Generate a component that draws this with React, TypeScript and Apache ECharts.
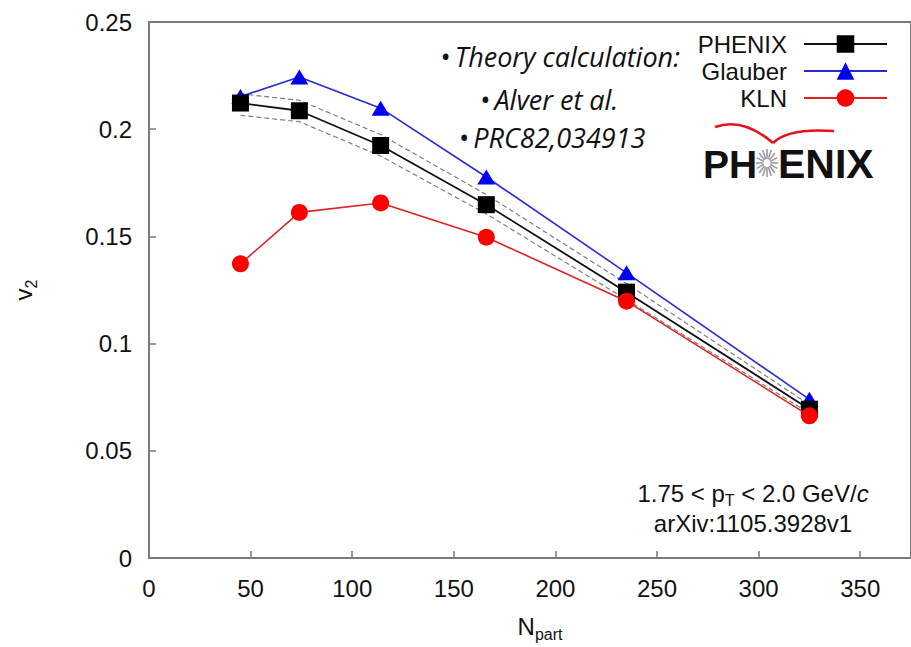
import React, { useEffect, useRef } from 'react';
import * as echarts from 'echarts';

// ---- data ----
const npart = [45, 74, 114, 166, 235, 325];
const phenixV2 = [0.2122, 0.2086, 0.1924, 0.1648, 0.124, 0.0694];
const phenixSysHigh = [0.2165, 0.2135, 0.1975, 0.1695, 0.128, 0.0715];
const phenixSysLow = [0.2065, 0.2035, 0.1875, 0.1605, 0.1205, 0.0675];
const glauberV2 = [0.2152, 0.2244, 0.2098, 0.1777, 0.133, 0.074];
const klnV2 = [0.1372, 0.1612, 0.1656, 0.1496, 0.1198, 0.0663];
const seriesNames = ['PHENIX', 'Glauber', 'KLN'];
const xTickLabels = ['0', '50', '100', '150', '200', '250', '300', '350'];
const yTickLabels = ['0', '0.05', '0.1', '0.15', '0.2', '0.25'];
const noteLines = ['\u2022\u2009Theory calculation:', '\u2022\u2009Alver et al.', '\u2022\u2009PRC82,034913'];

const FONT = '"Liberation Sans", Arial, Helvetica, sans-serif';

const pair = (ys: number[]) => npart.map((n, i) => [n, ys[i]]);

function buildLogo(): any[] {
  const els: any[] = [];
  const cx = 767;
  const cy = 163;
  for (let k = 0; k < 16; k++) {
    const a = (k * Math.PI) / 8;
    els.push({
      type: 'line',
      shape: {
        x1: cx + 3.5 * Math.cos(a),
        y1: cy + 4 * Math.sin(a),
        x2: cx + 11 * Math.cos(a),
        y2: cy + 14 * Math.sin(a),
      },
      style: { stroke: '#9c9c9c', lineWidth: 1.6 },
    });
  }
  els.push({
    type: 'text',
    x: 703,
    y: 164,
    style: { text: 'PH', font: `bold 39px ${FONT}`, fill: '#111', align: 'left', verticalAlign: 'middle' },
  });
  els.push({
    type: 'text',
    x: 778,
    y: 164,
    style: { text: 'ENIX', font: `bold 41px ${FONT}`, fill: '#111', align: 'left', verticalAlign: 'middle' },
  });
  els.push({
    type: 'bezierCurve',
    shape: { x1: 715, y1: 127, cpx1: 738, cpy1: 119, cpx2: 758, cpy2: 130, x2: 773, y2: 143 },
    style: { stroke: '#e3141b', lineWidth: 2.6, fill: null },
  });
  els.push({
    type: 'bezierCurve',
    shape: { x1: 773, y1: 143, cpx1: 784, cpy1: 132, cpx2: 806, cpy2: 129, x2: 834, y2: 131 },
    style: { stroke: '#e3141b', lineWidth: 2.6, fill: null },
  });
  return els;
}

export default function App() {
  const ref = useRef<HTMLDivElement>(null);

  useEffect(() => {
    if (!ref.current) return;
    const chart = echarts.init(ref.current, null, { renderer: 'svg' });

    const noteYs = [56, 99, 137];
    const noteXs = [560, 549, 552];
    const notes = noteLines.map((t, i) => ({
      type: 'text',
      x: noteXs[i],
      y: noteYs[i],
      style: {
        text: t,
        font: `italic 27px "Open Sans", sans-serif`,
        fill: '#111',
        align: 'center',
        verticalAlign: 'middle',
      },
    }));

    const option: any = {
      animation: false,
      backgroundColor: '#ffffff',
      textStyle: { fontFamily: FONT },
      grid: {
        left: 149,
        top: 22,
        right: -9,
        bottom: 647 - 559,
        show: true,
        borderColor: '#7a7a7a',
        borderWidth: 2,
        backgroundColor: 'transparent',
      },
      legend: {
        data: seriesNames,
        orient: 'vertical',
        align: 'right',
        right: 23,
        top: 32,
        padding: 0,
        itemWidth: 83,
        itemHeight: 22,
        itemGap: 3,
        selectedMode: false,
        textStyle: { fontSize: 24, color: '#111', fontFamily: FONT, lineHeight: 24, padding: [0, 12, 0, 0] },
      },
      xAxis: {
        type: 'value',
        min: 0,
        max: 375,
        interval: 50,
        name: '{n|N}{sub|part}',
        nameLocation: 'middle',
        nameGap: 52,
        nameTextStyle: {
          padding: [0, 0, 0, 20],
          rich: {
            n: { fontSize: 24, color: '#111', lineHeight: 32, fontFamily: FONT },
            sub: { fontSize: 16, color: '#111', lineHeight: 14, verticalAlign: 'bottom', fontFamily: FONT },
          },
        },
        axisLine: { show: true, lineStyle: { color: '#7a7a7a', width: 2 } },
        axisTick: { show: true, inside: true, length: 7, lineStyle: { color: '#7a7a7a', width: 1.5 } },
        axisLabel: {
          fontSize: 24,
          color: '#111',
          margin: 18,
          showMaxLabel: false,
          formatter: (v: number) => {
            const idx = Math.round(v / 50);
            return v % 50 === 0 && xTickLabels[idx] !== undefined ? xTickLabels[idx] : '';
          },
        },
        splitLine: { show: false },
      },
      yAxis: {
        type: 'value',
        min: 0,
        max: 0.25,
        interval: 0.05,
        name: '{v|v}{sub|2}',
        nameLocation: 'middle',
        nameRotate: 90,
        nameGap: 110,
        nameTextStyle: {
          rich: {
            v: { fontSize: 24, color: '#111', lineHeight: 32, fontFamily: FONT },
            sub: { fontSize: 16, color: '#111', lineHeight: 14, verticalAlign: 'bottom', fontFamily: FONT },
          },
        },
        axisLine: { show: true, lineStyle: { color: '#7a7a7a', width: 2 } },
        axisTick: { show: true, inside: true, length: 7, lineStyle: { color: '#7a7a7a', width: 1.5 } },
        axisLabel: {
          fontSize: 24,
          color: '#111',
          margin: 17,
          formatter: (v: number) => {
            const idx = Math.round(v / 0.05);
            return yTickLabels[idx] ?? '';
          },
        },
        splitLine: { show: false },
      },
      series: [
        {
          name: 'sysHigh',
          type: 'line',
          data: pair(phenixSysHigh),
          symbol: 'none',
          lineStyle: { color: '#808080', width: 1.2, type: [5, 3] },
          z: 1,
          silent: true,
        },
        {
          name: 'sysLow',
          type: 'line',
          data: pair(phenixSysLow),
          symbol: 'none',
          lineStyle: { color: '#808080', width: 1.2, type: [5, 3] },
          z: 1,
          silent: true,
        },
        {
          name: 'Glauber',
          type: 'line',
          data: pair(glauberV2),
          symbol: 'triangle',
          symbolSize: [18, 15],
          itemStyle: { color: '#0000f0' },
          lineStyle: { color: '#2a2ad2', width: 1.6 },
          z: 2,
        },
        {
          name: 'PHENIX',
          type: 'line',
          data: pair(phenixV2),
          symbol: 'rect',
          symbolSize: 17,
          itemStyle: { color: '#000000' },
          lineStyle: { color: '#111111', width: 1.8 },
          z: 3,
        },
        {
          name: 'KLN',
          type: 'line',
          data: pair(klnV2),
          symbol: 'circle',
          symbolSize: 17,
          itemStyle: { color: '#ff0000' },
          lineStyle: { color: '#dd2222', width: 1.6 },
          z: 4,
        },
      ],
      graphic: [
        ...notes,
        {
          type: 'text',
          x: 753,
          y: 493,
          style: {
            text: '{t|1.75 < p}{sub|T}{t| < 2.0 GeV/}{it|c}',
            align: 'center',
            verticalAlign: 'middle',
            rich: {
              t: { fontSize: 24, fill: '#111', fontFamily: FONT, lineHeight: 30 },
              it: { fontSize: 24, fill: '#111', fontFamily: FONT, fontStyle: 'italic', lineHeight: 30 },
              sub: { fontSize: 16, fill: '#111', fontFamily: FONT, lineHeight: 13, verticalAlign: 'bottom' },
            },
          },
        },
        {
          type: 'text',
          x: 753,
          y: 523,
          style: {
            text: 'arXiv:1105.3928v1',
            font: `24px ${FONT}`,
            fill: '#111',
            align: 'center',
            verticalAlign: 'middle',
          },
        },
        ...buildLogo(),
      ],
    };

    chart.setOption(option);
    return () => chart.dispose();
  }, []);

  return (
    <div
      ref={ref}
      style={{ position: 'fixed', left: 0, top: 0, width: 911, height: 647, background: '#fff' }}
    />
  );
}
